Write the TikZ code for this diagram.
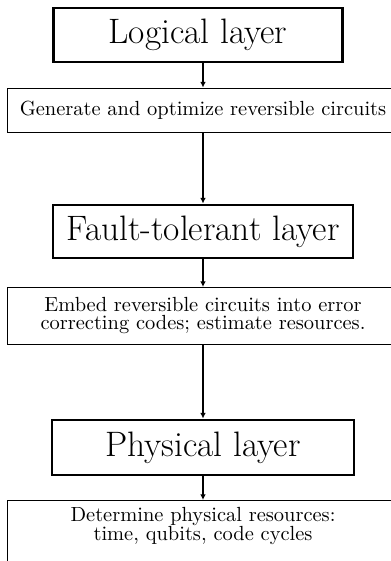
\documentclass[tikz,border=0pt]{standalone}
\usepackage{fontspec}
\usetikzlibrary{arrows.meta}
\begin{document}
\begin{tikzpicture}[x=0.489pt,y=-0.489pt,
  layerbox/.style={draw,line width=1.4pt,inner sep=0pt,font=\LARGE},
  taskbox/.style={draw,line width=0.45pt,inner sep=0pt,font=\normalsize,align=center},
  link/.style={line width=1.3pt,-{Latex[length=2.8pt,width=2.8pt]}}]
\useasboundingbox (0,0) rectangle (391,561);
\node[layerbox,minimum width=141.5pt,minimum height=26.4pt] (logical) at (198,35) {Logical layer};
\node[taskbox,minimum width=191.7pt,minimum height=21.5pt] (gen) at (203,110) {Generate and optimize reversible circuits};
\node[layerbox,minimum width=146.7pt,minimum height=25.9pt] (ft) at (203,231.5) {Fault-tolerant layer};
\node[taskbox,minimum width=191.7pt,text height=20.4pt,text depth=7.5pt,anchor=north] (embed) at (203,287) {Embed reversible circuits into error\\[-3.5pt]correcting codes; estimate resources.};
\node[layerbox,minimum width=147.7pt,minimum height=26.9pt] (phys) at (203,447.5) {Physical layer};
\node[taskbox,minimum width=191.7pt,inner ysep=3.2pt,text depth=30pt,anchor=north] (det) at (203,500) {Determine physical resources:\\[-2.5pt]time, qubits, code cycles};
\draw[link] (logical.south -| gen.north) -- (gen.north);
\draw[link] (gen) -- (ft);
\draw[link] (ft) -- (embed);
\draw[link] (embed) -- (phys);
\draw[link] (phys) -- (det);
\end{tikzpicture}
\end{document}
